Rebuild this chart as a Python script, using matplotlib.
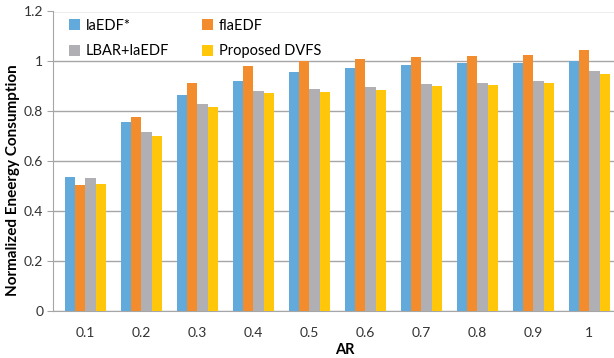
import numpy as np
import matplotlib.pyplot as plt

plt.rcParams['font.family'] = ['Lato', 'DejaVu Sans']

# data
ar_labels = ['0.1', '0.2', '0.3', '0.4', '0.5', '0.6', '0.7', '0.8', '0.9', '1']
la_edf = [0.535, 0.757, 0.865, 0.922, 0.956, 0.972, 0.984, 0.992, 0.992, 1.000]
fla_edf = [0.502, 0.776, 0.914, 0.980, 1.000, 1.008, 1.016, 1.021, 1.025, 1.045]
lbar_la_edf = [0.530, 0.715, 0.829, 0.882, 0.889, 0.897, 0.909, 0.913, 0.921, 0.960]
proposed = [0.506, 0.700, 0.816, 0.873, 0.878, 0.885, 0.901, 0.905, 0.913, 0.950]

series = [
    ('laEDF*', la_edf, '#62a9dc'),
    ('flaEDF', fla_edf, '#f28c2c'),
    ('LBAR+laEDF', lbar_la_edf, '#b0b0b4'),
    ('Proposed DVFS', proposed, '#ffc60a'),
]

fig = plt.figure(figsize=(6.14, 3.58), dpi=100)
ax = fig.add_axes([53 / 614, 47.5 / 358, 561 / 614, 299 / 358])

x = np.arange(len(ar_labels))
w = 0.184
bars = []
for i, (name, vals, col) in enumerate(series):
    bars.append(ax.bar(x + (i - 1.5) * w, vals, w, color=col, label=name, zorder=3))

ax.set_xlim(-0.58, 9.44)
ax.set_ylim(0, 1.2)
ax.set_yticks(np.arange(0, 1.21, 0.2))
ax.set_yticklabels(['0', '0.2', '0.4', '0.6', '0.8', '1', '1.2'])
ax.set_xticks(x)
ax.set_xticklabels(ar_labels)

ax.grid(axis='y', color='#a6a6a6', linewidth=1, zorder=0)
for s in ['top', 'right']:
    ax.spines[s].set_visible(False)
ax.spines['left'].set_color('#a6a6a6')
ax.spines['bottom'].set_color('#a6a6a6')
ax.tick_params(axis='y', length=4, color='#a6a6a6', labelsize=10, labelcolor='#333333', pad=3)
ax.tick_params(axis='x', length=0, labelsize=10, labelcolor='#333333', pad=12)

ax.set_ylabel('Normalized Eneergy Consumption', fontsize=11, fontweight='bold')
ax.yaxis.set_label_coords(-0.059, 0.436)
ax.set_xlabel('AR', fontsize=10.5, fontweight='bold')
ax.xaxis.set_label_coords(0.52, -0.108)

# row-wise legend order: laEDF*, flaEDF / LBAR+laEDF, Proposed DVFS
order = [0, 2, 1, 3]
ax.legend([bars[k] for k in order], [series[k][0] for k in order],
          loc='upper left', bbox_to_anchor=(0.015, 1.0), ncol=2, frameon=False,
          fontsize=10.5, handlelength=0.75, handleheight=0.75, handletextpad=0.4,
          columnspacing=2.3, labelspacing=0.8, borderaxespad=0.1)

fig.savefig('out.png', dpi=100)
